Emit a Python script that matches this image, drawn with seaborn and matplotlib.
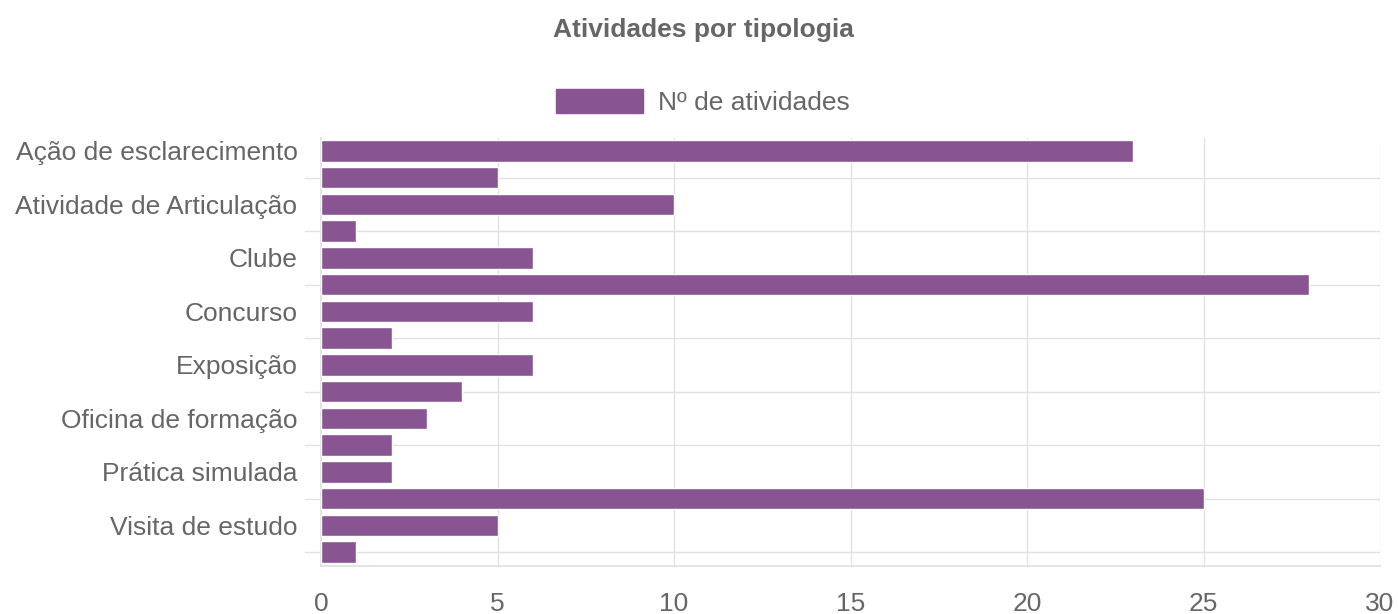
import numpy as np
import pandas as pd
import matplotlib
matplotlib.use("Agg")
import matplotlib.pyplot as plt
import seaborn as sns
from matplotlib.patches import Patch

# Categories (Chart.js auto-skipped every other label, so only even ones are shown)
categories = [
    "Ação de esclarecimento", "Atividade de Animação", "Atividade de Articulação", "Campanha",
    "Clube", "Colóquio", "Concurso", "Conferência",
    "Exposição", "Feira", "Oficina de formação", "Palestra",
    "Prática simulada", "Seminário", "Visita de estudo", "Workshop",
]
values = [23, 5, 10, 1, 6, 28, 6, 2, 6, 4, 3, 2, 2, 25, 5, 1]
shown_labels = [c if i % 2 == 0 else "" for i, c in enumerate(categories)]
x_ticks = [0, 5, 10, 15, 20, 25, 30]
series_name = "Nº de atividades"
title = "Atividades por tipologia"

bar_color = "#885592"
text_color = "#666666"
grid_color = "#e1e1e1"
fs = 19

sns.set_theme(style="white")
plt.rcParams["font.family"] = ["Liberation Sans", "DejaVu Sans"]

df = pd.DataFrame({"categoria": categories, "n": values})

fig = plt.figure(figsize=(13.98, 6.14), dpi=100)
W, H = 1398, 614
ax = fig.add_axes([321 / W, (H - 565.5) / H, (1380 - 321) / W, (565.5 - 137.5) / H])

sns.barplot(data=df, y="categoria", x="n", orient="h", color=bar_color,
            width=0.8, saturation=1, ax=ax, zorder=3)

ax.set_xlim(0, 30)
ax.set_ylim(len(categories) - 0.5, -0.5)
ax.set_xticks(x_ticks)
ax.set_xticklabels([str(t) for t in x_ticks], fontsize=fs, color=text_color)
ax.set_yticks(range(len(categories)))
ax.set_yticklabels(shown_labels, fontsize=fs, color=text_color)
ax.set_xlabel("")
ax.set_ylabel("")

# grid lines: vertical at x ticks, horizontal through the hidden categories
for t in x_ticks:
    ax.axvline(t, color=grid_color, lw=1, zorder=0)
for i in range(1, len(categories), 2):
    ax.axhline(i, color=grid_color, lw=1, zorder=0)
    ax.plot([-0.45, 0], [i, i], color=grid_color, lw=1, clip_on=False, zorder=0)

ax.tick_params(axis="y", length=0, pad=17)
ax.tick_params(axis="x", length=13, color=grid_color, pad=6)

for s in ["top", "right"]:
    ax.spines[s].set_visible(False)
ax.spines["left"].set_color(grid_color)
ax.spines["bottom"].set_color(grid_color)

fig.text(703 / W, 1 - 30 / H, title, ha="center", va="center",
         fontsize=fs, fontweight="bold", color=text_color)

handle = Patch(facecolor=bar_color, edgecolor=bar_color)
fig.legend([handle], [series_name], loc="center", bbox_to_anchor=(703 / W, 1 - 102 / H),
           frameon=False, fontsize=fs, handlelength=3.3, handleheight=1.0,
           handletextpad=0.55, labelcolor=text_color)

fig.savefig("out.png", dpi=100)
